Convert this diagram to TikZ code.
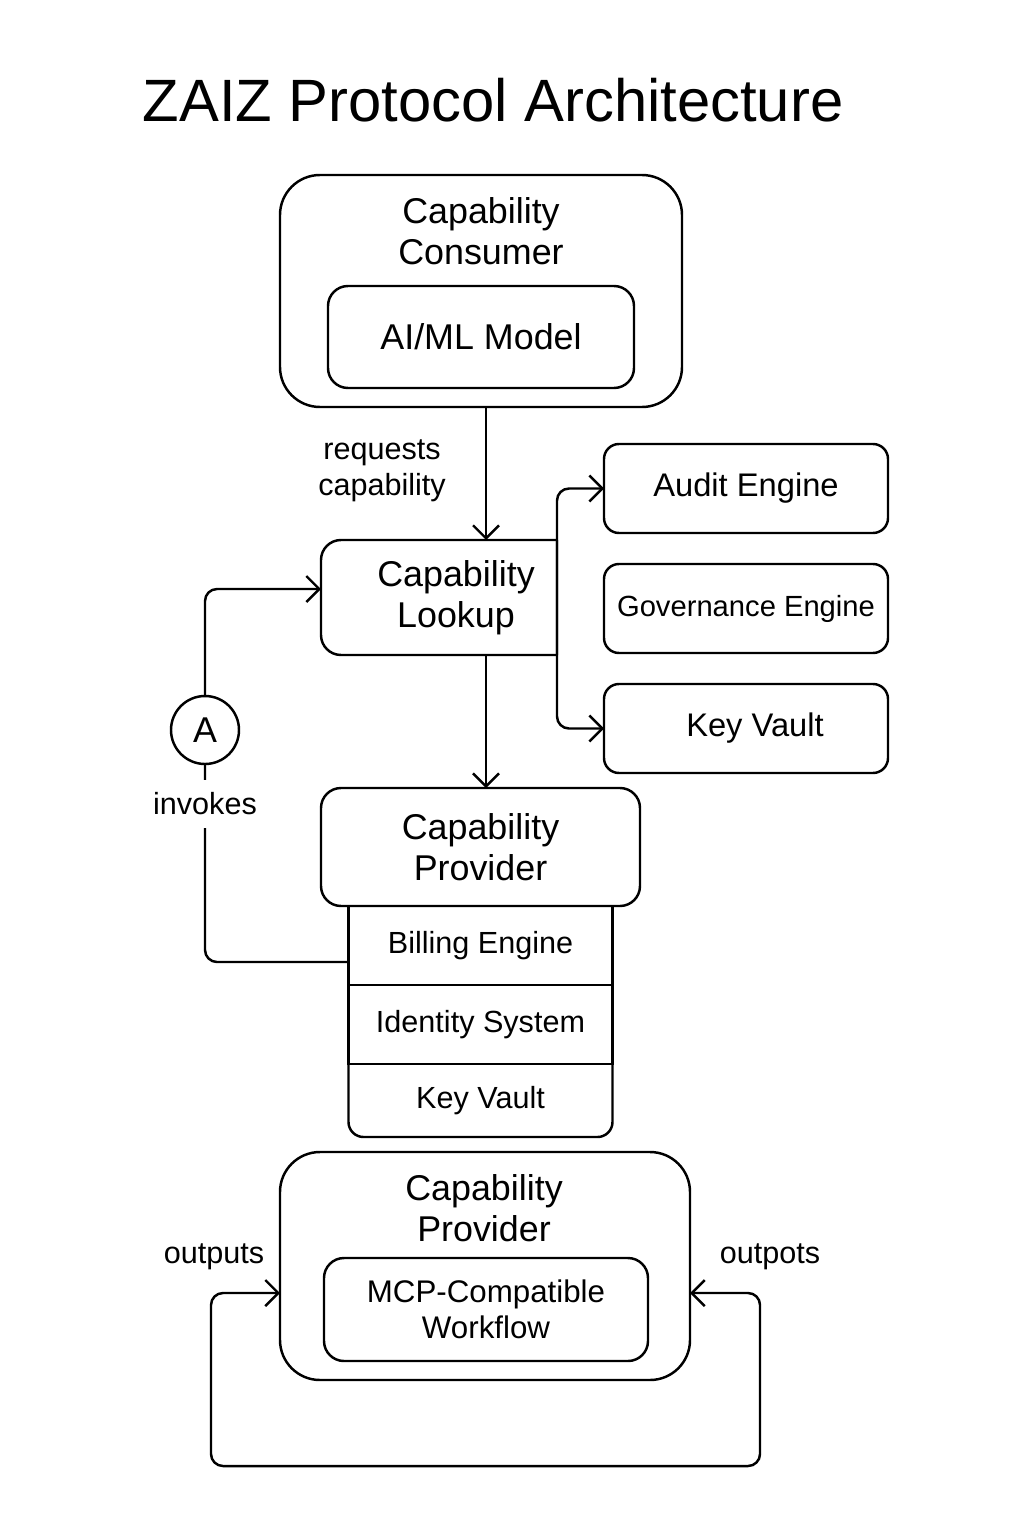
\documentclass[tikz,border=0pt]{standalone}
\usepackage{fontspec}
\setmainfont{Liberation Sans}
\usetikzlibrary{positioning,arrows.meta}
\newcommand\titlefont{\fontsize{17}{20}\selectfont}
\newcommand\boxfont{\fontsize{10.2}{11.6}\selectfont}
\newcommand\sidefont{\fontsize{9.3}{11}\selectfont}
\newcommand\govfont{\fontsize{8.3}{10}\selectfont}
\newcommand\rowfont{\fontsize{8.7}{10}\selectfont}
\newcommand\lblfont{\fontsize{8.7}{10.2}\selectfont}
\newcommand\mcpfont{\fontsize{8.9}{10.3}\selectfont}

\begin{document}
\begin{tikzpicture}[line width=0.7pt,>={Straight Barb[length=1.3mm,width=2.6mm]},
    every node/.style={outer sep=0pt},
    bigbox/.style={draw,rounded corners=0.4cm,inner sep=0pt},
    box/.style={draw,rounded corners=0.2cm,align=center,inner sep=0pt,font=\boxfont},
    sidebox/.style={draw,rounded corners=0.15cm,minimum width=2.84cm,minimum height=0.89cm,inner sep=0pt},
    row/.style={draw,minimum width=2.64cm,inner sep=0pt,font=\rowfont},
    lbl/.style={align=center,font=\lblfont}]
      \useasboundingbox (0,0) rectangle (10.24,-15.36);
      \coordinate (Spine) at (4.86,0);

      \node[font=\titlefont] (Title) at (4.93,-1.0) {ZAIZ Protocol Architecture};

      \node[bigbox,minimum width=4.02cm,minimum height=2.32cm] (Consumer) at (4.81,-2.91) {};
      \node[lbl,font=\boxfont] (ConsumerTxt) at (4.81,-2.31) {Capability\\Consumer};
      \node[box,minimum width=3.06cm,minimum height=1.02cm] (MLModel) at (4.81,-3.37) {AI/ML Model};

      \node[box,draw=none,minimum width=2.36cm,minimum height=1.15cm] (Lookup) at (4.39,-5.975) {\hspace*{0.34cm}Capability\\\hspace*{0.34cm}Lookup};
      \node[lbl] (Requests) at (3.82,-4.71) {requests\\capability};

      \node[sidebox,font=\sidefont] (AuditEngine) at (7.46,-4.885) {Audit Engine};
      \node[sidebox,font=\govfont,below=0.31cm of AuditEngine] (GovEngine) {Governance Engine};
      \node[sidebox,font=\sidefont,below=0.31cm of GovEngine] (KeyVaultA) {\hspace*{0.18cm}Key Vault};

      \node[box,minimum width=3.19cm,minimum height=1.18cm] (Provider) at (4.805,-8.47) {Capability\\Provider};
      \node[row,minimum height=0.79cm,below=0pt of Provider] (Billing) {Billing Engine};
      \node[row,minimum height=0.79cm,below=0pt of Billing] (Identity) {Identity System};
      \node[row,draw=none,minimum height=0.73cm,below=0pt of Identity] (KeyVaultB) {Key Vault};

      \node[circle,draw,minimum size=0.68cm,inner sep=0pt,font=\boxfont] (A) at (2.05,-7.30) {A};

      \node[bigbox,minimum width=4.10cm,minimum height=2.28cm] (ProviderB) at (4.85,-12.66) {};
      \node[lbl,font=\boxfont] (ProviderBTxt) at (4.84,-12.08) {Capability\\Provider};
      \node[box,minimum width=3.24cm,minimum height=1.03cm,font=\mcpfont] (Workflow) at (4.86,-13.095) {MCP-Compatible\\Workflow};
      \node[lbl] (OutputsL) at (2.14,-12.57) {outputs};
      \node[lbl] (OutputsR) at (7.70,-12.57) {outpots};
      \coordinate (LoopL) at (2.11,-14.66);
      \coordinate (LoopR) at (7.60,-12.93);

      \draw[rounded corners=0.2cm] (Lookup.north east) -- (Lookup.north west) -- (Lookup.south west) -- (Lookup.south east);
      \draw[rounded corners=0.15cm] (KeyVaultB.north west) -- (KeyVaultB.south west) -- (KeyVaultB.south east) -- (KeyVaultB.north east);

      \path[->] (Consumer.south -| Spine) edge (Lookup.north -| Spine)
                (Lookup.south -| Spine)   edge (Provider.north -| Spine);
      \draw[->,rounded corners=0.12cm] (Lookup.south east) |- (AuditEngine.west);
      \draw[->,rounded corners=0.12cm] (Lookup.north east) |- (KeyVaultA.west);
      \draw[->,rounded corners=0.12cm] (A.north) |- ([yshift=0.085cm]Lookup.west);
      \draw[rounded corners=0.12cm] ([yshift=-0.165cm]Billing.west) -| (A.south);
      \node[lbl,fill=white,inner ysep=0.13cm,inner xsep=0.05cm] (Invokes) at (2.05,-8.04) {invokes};
      \draw[<->,rounded corners=0.12cm] ([yshift=-0.27cm]ProviderB.west) -| (LoopL) -| (LoopR) -- ([yshift=-0.27cm]ProviderB.east);
\end{tikzpicture}
\end{document}
